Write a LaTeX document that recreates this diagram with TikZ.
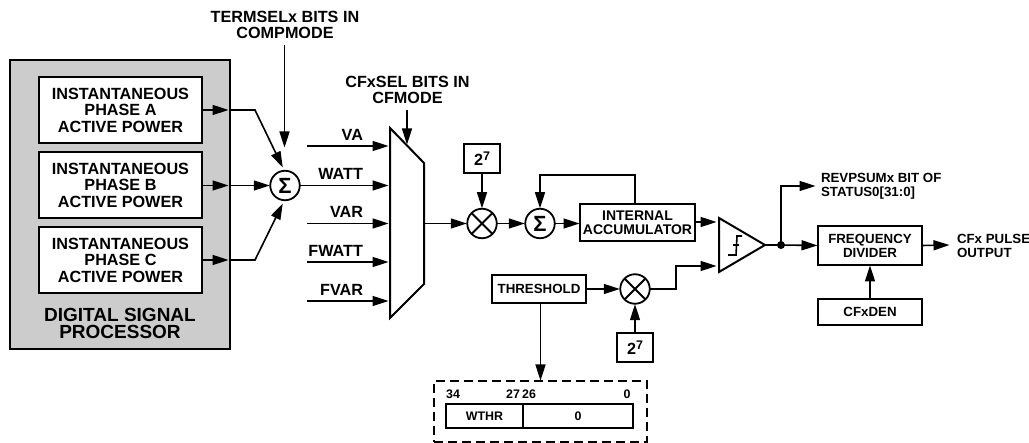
\documentclass[tikz,border=0pt]{standalone}
\usepackage{fontspec}
\setmainfont{Liberation Sans}
\usetikzlibrary{arrows.meta,calc}
\definecolor{panel}{gray}{0.8}
\tikzset{
  x=1pt,y=-1pt,
  every node/.style={font=\bfseries\fontsize{16.2}{16.5}\selectfont,inner sep=0pt,outer sep=0pt},
  block/.style={draw=black,line width=2pt,fill=white,minimum width=#1,align=center,anchor=north west},
  lab/.style={align=center},
  labl/.style={align=left,anchor=west,font=\bfseries\fontsize{13.3}{14}\selectfont},
  small/.style={font=\bfseries\fontsize{13.3}{14}\selectfont},
  tiny/.style={font=\bfseries\fontsize{12.4}{13}\selectfont},
  sumnode/.style={draw=black,line width=1.8pt,fill=white,circle,minimum size=29.5pt,font=\bfseries\fontsize{22}{22}\selectfont},
  mult/.style={draw=black,line width=1.8pt,fill=white,circle,minimum size=29.5pt,
     path picture={\draw[line width=1.8pt] (path picture bounding box.north west)--(path picture bounding box.south east)
       (path picture bounding box.north east)--(path picture bounding box.south west);}},
  wire/.style={line width=1.6pt,draw=black},
  arr/.style={wire,-{Triangle[length=16pt,width=10pt]},shorten >=0.5pt},
}
\newcommand{\ptwo}{2\raisebox{5.5pt}{\fontsize{12.5}{12.5}\selectfont 7}}
\begin{document}
\begin{tikzpicture}
\useasboundingbox (0,0) rectangle (1029,443);
% DSP panel
\node[draw=black,line width=2pt,fill=panel,minimum width=220pt,minimum height=289pt,anchor=north west] (dsp) at (10,60) {};
\node[block=163pt,minimum height=66pt] (pa) at (39,77) {INSTANTANEOUS\\PHASE A\\ACTIVE POWER};
\node[block=163pt,minimum height=66pt] (pb) at (39,152) {INSTANTANEOUS\\PHASE B\\ACTIVE POWER};
\node[block=163pt,minimum height=66pt] (pc) at (39,227) {INSTANTANEOUS\\PHASE C\\ACTIVE POWER};
\node[lab,font=\bfseries\fontsize{19}{17}\selectfont] (dsptxt) at (120,323.5) {DIGITAL SIGNAL\\PROCESSOR};
% first sum
\node[sumnode] (s1) at (285,185.5) {Σ};
\coordinate (ma) at (229,110); \coordinate (ka) at (255,110); \coordinate (ta) at (283,168);
\coordinate (mb) at (229,185.5);
\coordinate (mc) at (229,260); \coordinate (kc) at (255,260); \coordinate (tc) at (283,203);
\draw[arr] (pa.east|-ma) -- (ma);
\draw[arr] (ma) -- (ka) -- (ta);
\draw[arr] (pb.east|-mb) -- (mb);
\draw[arr] (mb) -- (s1.west);
\draw[arr] (pc.east|-mc) -- (mc);
\draw[arr] (mc) -- (kc) -- (tc);
\node[lab] (term) at (285,25) {TERMSELx BITS IN\\COMPMODE};
\coordinate (tt) at (284.5,148);
\coordinate (tf) at (284.5,45);
\draw[arr] (tf) -- (tt);
% mux
\draw[line width=2pt,fill=white,line join=miter] (390,128) -- (424,163) -- (424,284) -- (390,318) -- cycle;
\coordinate (mo) at (424,223.5);
\foreach \y/\t/\n in {146/VA/a,185.5/WATT/b,223.5/VAR/c,262/FWATT/d,301/FVAR/e}{
  \coordinate (in\n) at (389,\y);
  \coordinate (st\n) at (307,\y);
  \node[anchor=east] (lb\n) at (363,\y-11.5) {\t};
}
\draw[arr] (s1.east) -- (inb);
\draw[arr] (sta) -- (ina);
\draw[arr] (stc) -- (inc);
\draw[arr] (std) -- (ind);
\draw[arr] (ste) -- (ine);
\node[lab] (cfsel) at (407.5,90) {CFxSEL BITS IN\\CFMODE};
\coordinate (cf) at (407,110); \coordinate (cft) at (407,145);
\draw[arr] (cf) -- (cft);
% accumulator path
\node[mult] (m1) at (482,223.5) {};
\node[block=36pt,minimum height=29pt] (p1) at (464,144) {\ptwo};
\node[sumnode] (s2) at (540,223.5) {Σ};
\node[block=115pt,minimum height=37pt,font=\bfseries\fontsize{14}{14}\selectfont] (acc) at (580,204) {INTERNAL\\ACCUMULATOR};
\draw[arr] (mo) -- (m1.west);
\draw[arr] (p1.south) -- (m1.north);
\draw[arr] (m1.east) -- (s2.west);
\draw[arr] (s2.east) -- (acc.west|-s2);
\coordinate (fb) at (635,204);
\draw[arr] (fb) -- (635,175) -- (s2.north|-0,175) -- (s2.north);
% threshold path
\node[block=94pt,minimum height=28pt,small] (th) at (492,275) {THRESHOLD};
\node[mult] (m2) at (635,289) {};
\node[block=36pt,minimum height=29pt] (p2) at (617,333) {\ptwo};
\draw[arr] (th.east) -- (m2.west);
\draw[arr] (p2.north) -- (m2.south);
% comparator
\draw[line width=2pt,fill=white,line join=miter] (719,218) -- (765,245) -- (719,272) -- cycle;
\draw[line width=1.6pt] (728,255) -- (736,255) -- (737,236) -- (742,236) (733,245) -- (739,245);
\coordinate (ci1) at (717,222); \coordinate (ci2) at (717,266); \coordinate (cout) at (765,245);
\draw[arr] (acc.east|-ci1) -- (ci1);
\draw[arr] (m2.east) -- (676,289) -- (676,266) -- (ci2);
\fill (781,245) circle (4) coordinate (dot);
\node[block=104pt,minimum height=39pt,small] (fd) at (818,226) {FREQUENCY\\DIVIDER};
\node[block=104pt,minimum height=26pt,small] (den) at (818,299) {CFxDEN};
\draw[wire] (cout) -- (dot);
\draw[arr] (dot) -- (fd.west);
\coordinate (rv) at (816,186);
\draw[arr] (dot) -- (dot|-rv) -- (rv);
\node[labl] (revtxt) at (821,186) {REVPSUMx BIT OF\\STATUS0[31:0]};
\draw[arr] (den.north) -- (fd.south);
\coordinate (oe) at (950,245);
\draw[arr] (fd.east) -- (oe);
\node[labl] (outtxt) at (957,245.5) {CFx PULSE\\OUTPUT};
% register
\node[draw=black,line width=1.8pt,dash pattern=on 9pt off 5pt,minimum width=213pt,minimum height=61pt,anchor=north west] (dash) at (434,381) {};
\draw[arr] (th.south-|dash.north) -- (dash.north);
\node[draw=black,line width=1.8pt,minimum width=77pt,minimum height=24pt,anchor=north west,tiny] (wthr) at (446,404) {WTHR};
\node[draw=black,line width=1.8pt,minimum width=110pt,minimum height=24pt,anchor=north west,tiny] (zero) at (523,404) {0};
\node[tiny] (b34) at (453,394.5) {34};
\node[tiny] (b27) at (513,394.5) {27};
\node[tiny] (b26) at (529,394.5) {26};
\node[tiny] (b0) at (627,394.5) {0};
\end{tikzpicture}
\end{document}
